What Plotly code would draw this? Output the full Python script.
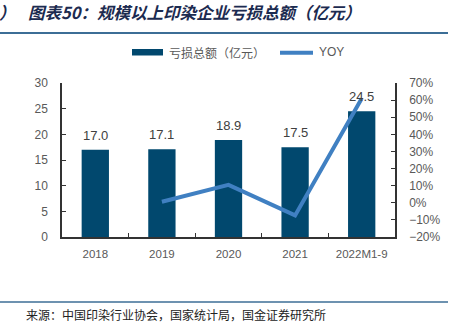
import plotly.graph_objects as go

# Data
categories = ["2018", "2019", "2020", "2021", "2022M1-9"]
loss_total = [17.0, 17.1, 18.9, 17.5, 24.5]          # 亏损总额（亿元）
yoy_categories = ["2019", "2020", "2021", "2022M1-9"]
yoy = [0.006, 0.105, -0.074, 0.61]                   # YOY

BAR_COLOR = "#01486E"
LINE_COLOR = "#4080C2"
TEXT_GREY = "#595959"
AXIS_COLOR = "#333333"
TITLE_COLOR = "#1C2B50"
RULE_COLOR = "#3C6E96"

W, H = 454, 326
L, R, T, B = 62, 59, 83, 89
PW, PH = W - L - R, H - T - B


def px(x):
    """figure pixel x -> paper x"""
    return (x - L) / PW


def py(y):
    """figure pixel y -> paper y"""
    return (H - B - y) / PH


fig = go.Figure()

fig.add_trace(go.Bar(
    x=categories, y=loss_total, name="亏损总额（亿元）",
    marker=dict(color=BAR_COLOR, line=dict(width=0)),
    width=0.41, showlegend=False, yaxis="y",
))

fig.add_trace(go.Scatter(
    x=yoy_categories, y=yoy, name="YOY", mode="lines",
    line=dict(color=LINE_COLOR, width=4), showlegend=False, yaxis="y2",
))

annotations = []
# value labels above the bars (category index used as the x position)
for i, v in enumerate(loss_total):
    annotations.append(dict(
        x=i, y=v, xref="x", yref="y", text=f"{v:.1f}", showarrow=False,
        yanchor="bottom", yshift=5,
        font=dict(family="Liberation Sans, Arial", size=13, color="#404040"),
    ))

title_font = dict(family="Noto Sans CJK SC", size=16.5, color=TITLE_COLOR, style="italic", weight="bold")
# title
annotations.append(dict(
    x=px(-3), y=py(12.5), xref="paper", yref="paper", xanchor="left", yanchor="middle",
    text="）", showarrow=False, font=title_font,
))
annotations.append(dict(
    x=px(26), y=py(12.5), xref="paper", yref="paper", xanchor="left", yanchor="middle",
    text="图表50：规模以上印染企业亏损总额（亿元）", showarrow=False, font=title_font,
))
# source
annotations.append(dict(
    x=px(24), y=py(314), xref="paper", yref="paper", xanchor="left", yanchor="middle",
    text="来源：中国印染行业协会，国家统计局，国金证券研究所", showarrow=False,
    font=dict(family="Noto Sans CJK SC", size=12, color="#222222"),
))
# legend texts
annotations.append(dict(
    x=px(167), y=py(52.5), xref="paper", yref="paper", xanchor="left", yanchor="middle",
    text="亏损总额（亿元）", showarrow=False,
    font=dict(family="Noto Sans CJK SC", size=12, color=TEXT_GREY),
))
annotations.append(dict(
    x=px(317), y=py(52), xref="paper", yref="paper", xanchor="left", yanchor="middle",
    text="YOY", showarrow=False,
    font=dict(family="Liberation Sans, Arial", size=12, color=TEXT_GREY),
))

shapes = [
    # rule under the title
    dict(type="line", xref="paper", yref="paper", x0=px(0), x1=px(448), y0=py(33), y1=py(33),
         line=dict(color=RULE_COLOR, width=2)),
    # rule above the source
    dict(type="line", xref="paper", yref="paper", x0=px(0), x1=px(448), y0=py(302), y1=py(302),
         line=dict(color=RULE_COLOR, width=1.5)),
    # legend swatches
    dict(type="rect", xref="paper", yref="paper", x0=px(132), x1=px(163), y0=py(55.5), y1=py(49),
         fillcolor=BAR_COLOR, line=dict(width=0)),
    dict(type="line", xref="paper", yref="paper", x0=px(280), x1=px(313), y0=py(52.7), y1=py(52.7),
         line=dict(color=LINE_COLOR, width=4)),
]

tick_font = dict(family="Liberation Sans, Arial", size=12, color=TEXT_GREY)

fig.update_layout(
    width=W, height=H,
    margin=dict(l=L, r=R, t=T, b=B, pad=0),
    paper_bgcolor="white", plot_bgcolor="white",
    showlegend=False,
    bargap=0.59,
    xaxis=dict(
        type="category", range=[-0.5, 4.5], showline=True, linecolor=AXIS_COLOR, linewidth=1.5,
        ticks="inside", ticklen=4, tickcolor=AXIS_COLOR, tickson="boundaries",
        showgrid=False, zeroline=False, tickfont=dict(family="Liberation Sans, Arial", size=11.5, color=TEXT_GREY),
        ticklabelstandoff=5,
    ),
    yaxis=dict(
        range=[0, 30], dtick=5, showline=True, linecolor=AXIS_COLOR, linewidth=1.5,
        ticks="inside", ticklen=4, tickcolor=AXIS_COLOR, showgrid=False, zeroline=False,
        tickfont=tick_font, ticklabelstandoff=10,
    ),
    yaxis2=dict(
        overlaying="y", side="right", range=[-0.2, 0.7], dtick=0.1, tickformat=".0%",
        showline=True, linecolor=AXIS_COLOR, linewidth=1.5,
        ticks="inside", ticklen=4, tickcolor=AXIS_COLOR, showgrid=False, zeroline=False,
        tickfont=tick_font, ticklabelstandoff=10,
    ),
    annotations=annotations,
    shapes=shapes,
)

fig.write_html("out.html")
